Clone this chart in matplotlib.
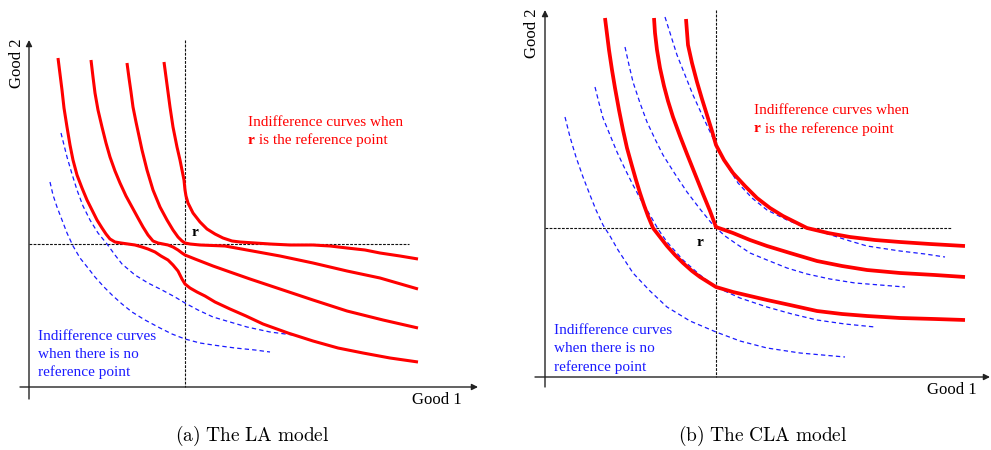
import matplotlib
matplotlib.use("Agg")
import matplotlib.pyplot as plt

# All coordinates below in pixel units (x right, y down).

# ---- panel (a): LA model ----
A_ORIGIN = (29, 387)
A_REF = (185, 244)
A_XAXIS_END = 478
A_YAXIS_END = 40

A_red = [
    ([58, 60, 62, 64, 67, 70, 73, 77, 82, 87, 92, 97, 102, 106, 110, 115, 121, 128, 135, 142, 148,
      155, 161, 168, 173, 178, 182, 185, 190, 197, 205, 215, 230, 246, 263, 288, 313, 338, 363, 390, 418],
     [58, 74, 90, 108, 127, 145, 160, 175, 188, 200, 210, 220, 228, 234, 239, 242, 243, 244, 245, 247,
      249, 252, 256, 260, 265, 271, 279, 284, 288, 292, 296, 302, 309, 316, 324, 333, 341, 348, 353,
      358, 362]),
    ([91, 93, 95, 98, 102, 106, 110, 115, 120, 126, 132, 138, 143, 148, 153, 158, 163, 168, 173, 178,
      182, 185, 195, 213, 230, 250, 280, 313, 347, 383, 418],
     [60, 77, 93, 110, 127, 143, 157, 171, 183, 196, 207, 218, 227, 235, 241, 243, 244, 245, 247, 250,
      253, 255, 259, 266, 272, 279, 289, 300, 311, 320, 328]),
    ([127, 129, 131, 133, 136, 139, 142, 147, 153, 160, 167, 173, 178, 182, 185, 190, 200, 225, 247,
      280, 313, 347, 380, 418],
     [63, 78, 92, 107, 122, 136, 150, 170, 190, 207, 220, 230, 237, 241, 243, 244, 245, 246, 250, 256,
      263, 271, 278, 289]),
    ([164, 166, 168, 170, 173, 177, 180, 182, 184, 185, 186, 188, 193, 200, 207, 215, 223, 232, 240,
      255, 270, 290, 313, 330, 347, 365, 380, 400, 418],
     [62, 77, 92, 107, 127, 147, 160, 170, 180, 190, 196, 203, 213, 222, 229, 234, 238, 241, 242, 243,
      244, 245, 245, 246, 248, 250, 253, 256, 259]),
]
A_blue = [
    ([61, 64, 67, 72, 77, 83, 90, 98, 107, 115, 122, 135, 148, 162, 175, 185, 198, 213, 230, 247, 270, 293],
     [133, 145, 157, 174, 190, 206, 220, 233, 244, 255, 264, 275, 283, 290, 297, 303, 310, 317, 322, 327,
      332, 335]),
    ([50, 53, 57, 62, 67, 73, 80, 88, 95, 104, 112, 122, 132, 145, 160, 172, 185, 200, 213, 235, 255, 270],
     [182, 195, 207, 220, 233, 246, 258, 268, 277, 287, 295, 304, 312, 320, 328, 334, 339, 343, 345, 348,
      350, 352]),
]

# ---- panel (b): CLA model ----
B_ORIGIN = (545, 377)
B_REF = (716, 228)
B_XAXIS_END = 990
B_YAXIS_END = 10

B_red = [
    ([605, 607, 609, 612, 615, 619, 623, 627, 632, 636, 640, 644, 648, 653, 660, 667, 675, 683, 692,
      700, 708, 716, 733, 750, 767, 790, 817, 842, 867, 900, 935, 965],
     [18, 34, 50, 70, 88, 110, 130, 148, 166, 180, 193, 205, 216, 228, 237, 246, 255, 263, 271, 277,
      282, 287, 292, 296, 300, 305, 311, 314, 316, 318, 319, 320]),
    ([654, 655, 657, 660, 664, 668, 673, 680, 687, 695, 703, 710, 716, 733, 750, 767, 790, 817, 842,
      867, 900, 935, 965],
     [18, 33, 50, 68, 86, 101, 117, 136, 154, 174, 194, 211, 227, 233, 240, 246, 253, 261, 266, 270,
      273, 275, 277]),
    ([686, 687, 688, 692, 697, 702, 707, 712, 716, 724, 733, 745, 757, 770, 783, 795, 807, 828, 850,
      875, 900, 930, 965],
     [19, 32, 45, 63, 82, 99, 115, 131, 145, 160, 173, 186, 198, 208, 216, 222, 228, 233, 237, 240,
      242, 244, 246]),
]
B_blue = [
    ([665, 671, 677, 685, 693, 703, 713, 720, 728, 738, 752, 767, 787, 807, 828, 850, 867, 900, 925, 945],
     [17, 36, 55, 75, 95, 117, 138, 152, 167, 183, 198, 210, 220, 228, 234, 241, 246, 251, 254, 257]),
    ([625, 629, 633, 640, 647, 655, 663, 675, 687, 700, 713, 725, 738, 750, 767, 787, 807, 830, 855,
      880, 905],
     [47, 65, 82, 103, 122, 139, 155, 174, 192, 209, 225, 236, 245, 253, 260, 268, 274, 279, 283, 285,
      287]),
    ([595, 599, 603, 610, 617, 625, 633, 641, 650, 658, 667, 683, 700, 716, 740, 767, 792, 817, 845, 875],
     [87, 103, 118, 135, 152, 169, 185, 200, 215, 229, 242, 260, 275, 287, 298, 307, 314, 320, 324, 327]),
    ([565, 570, 576, 583, 590, 596, 603, 610, 618, 633, 650, 667, 690, 716, 740, 767, 800, 845],
     [117, 137, 157, 177, 195, 210, 225, 236, 250, 273, 291, 307, 321, 332, 341, 348, 353, 357]),
]

RED = "#ff0000"
BLUE = "#1a1aff"
SERIF = ["Liberation Serif", "DejaVu Serif"]
plt.rcParams["mathtext.fontset"] = "cm"

fig = plt.figure(figsize=(9.91, 4.5), dpi=100)
ax = fig.add_axes([0, 0, 1, 1])
ax.set_xlim(0, 991)
ax.set_ylim(450, 0)
ax.axis("off")


def draw_axes(origin, ref, x_end, y_end, x_start, y_start, h_end):
    ox, oy = origin
    ax.annotate("", xy=(x_end, oy), xytext=(x_start, oy),
                arrowprops=dict(arrowstyle="-|>", color="#222222", lw=1.0, mutation_scale=9,
                                shrinkA=0, shrinkB=0))
    ax.annotate("", xy=(ox, y_end), xytext=(ox, y_start),
                arrowprops=dict(arrowstyle="-|>", color="#222222", lw=1.0, mutation_scale=9,
                                shrinkA=0, shrinkB=0))
    rx, ry = ref
    ax.plot([rx, rx], [y_end, oy], color="#111111", lw=0.8, ls=(0, (2.5, 1.2)))
    ax.plot([ox, h_end], [ry, ry], color="#111111", lw=0.8, ls=(0, (2.5, 1.2)))


draw_axes(A_ORIGIN, A_REF, A_XAXIS_END, A_YAXIS_END, 20, 399, 409)
draw_axes(B_ORIGIN, B_REF, B_XAXIS_END, B_YAXIS_END, 535, 387, 952)

for xs, ys in A_blue + B_blue:
    ax.plot(xs, ys, color=BLUE, lw=0.9, ls=(0, (3.5, 2.5)))
for xs, ys in A_red:
    ax.plot(xs, ys, color=RED, lw=2.2, solid_joinstyle="round", solid_capstyle="butt")
for xs, ys in B_red:
    ax.plot(xs, ys, color=RED, lw=2.7, solid_joinstyle="round", solid_capstyle="butt")

# labels
fs = 11
ax.text(17, 63, "Good 2", rotation=90, ha="center", va="center", fontsize=12, family=SERIF)
ax.text(437, 400, "Good 1", ha="center", va="center", fontsize=12, family=SERIF)
ax.text(532, 33, "Good 2", rotation=90, ha="center", va="center", fontsize=12, family=SERIF)
ax.text(952, 390, "Good 1", ha="center", va="center", fontsize=12, family=SERIF)

ax.text(195, 232, "r", ha="center", va="center", fontsize=fs, weight="bold", family=SERIF)
ax.text(700, 242, "r", ha="center", va="center", fontsize=fs, weight="bold", family=SERIF)

for (tx, ty) in [(248, 122), (754, 111)]:
    ax.text(tx, ty, "Indifference curves when", color=RED, ha="left", va="center",
            fontsize=fs, family=SERIF)
    ax.text(tx, ty + 18, "r", color=RED, ha="left", va="center", fontsize=fs,
            weight="bold", family=SERIF)
    ax.text(tx + 7, ty + 18, " is the reference point", color=RED, ha="left", va="center",
            fontsize=fs, family=SERIF)

for (tx, ty) in [(38, 336), (554, 331)]:
    for i, line in enumerate(["Indifference curves", "when there is no", "reference point"]):
        ax.text(tx, ty + 18 * i, line, color=BLUE, ha="left", va="center",
                fontsize=fs, family=SERIF)

ax.text(252, 436, r"$\mathrm{(a)\ The\ LA\ model}$", ha="center", va="center", fontsize=14)
ax.text(763, 436, r"$\mathrm{(b)\ The\ CLA\ model}$", ha="center", va="center", fontsize=14)

fig.savefig("out.png", dpi=100)
